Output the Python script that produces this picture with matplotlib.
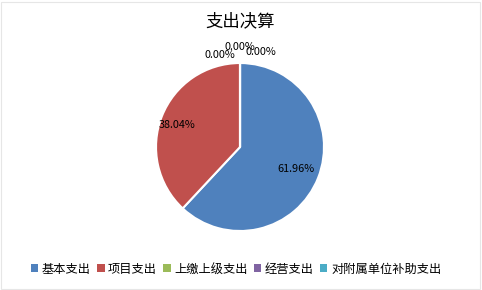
import matplotlib
matplotlib.use("Agg")
import matplotlib.pyplot as plt
from matplotlib.patches import Patch, Rectangle

plt.rcParams['font.family'] = ['Noto Sans CJK SC', 'DejaVu Sans']

# 数据
categories = ["基本支出", "项目支出", "上缴上级支出", "经营支出", "对附属单位补助支出"]
values = [61.96, 38.04, 0.00, 0.00, 0.00]
colors = ["#4F81BD", "#C0504D", "#9BBB59", "#8064A2", "#4BACC6"]
title = "支出决算"

fig = plt.figure(figsize=(4.82, 2.90), dpi=100)
fig.patches.append(Rectangle((0.002, 0.004), 0.994, 0.99, transform=fig.transFigure,
                             fill=False, edgecolor="#E6E6E6", linewidth=0.8))

ax = fig.add_axes([0.3237, 0.2034, 0.3485, 0.5793])
wedges, texts, autotexts = ax.pie(values, colors=colors, startangle=90, counterclock=False,
                                  autopct="%.2f%%", pctdistance=0.72,
                                  wedgeprops=dict(edgecolor="white", linewidth=1.5),
                                  textprops=dict(fontsize=7.8, color="black"))
ax.set_xlim(-1, 1)
ax.set_ylim(-1, 1)
ax.set_aspect("auto")

# 0% 的标签放到饼图上方
zero_pos = [(-0.24, 1.10), (0.0, 1.19), (0.25, 1.13)]
k = 0
for v, t in zip(values, autotexts):
    if v == 0:
        t.set_position(zero_pos[k])
        t.set_clip_on(False)
        k += 1
# 38.04% 稍微往左
x0, y0 = autotexts[1].get_position()
autotexts[1].set_position((x0 - 0.08, y0))

fig.text(0.498, 0.925, title, ha="center", va="center", fontsize=12.5)

handles = [Patch(facecolor=c, edgecolor="none") for c in colors]
fig.legend(handles, categories, loc="center", bbox_to_anchor=(0.49, 0.072), ncol=5,
           frameon=False, fontsize=8.8, handlelength=0.6, handleheight=0.6,
           handletextpad=0.3, columnspacing=0.5, borderaxespad=0)

plt.savefig("out.png", dpi=100)
